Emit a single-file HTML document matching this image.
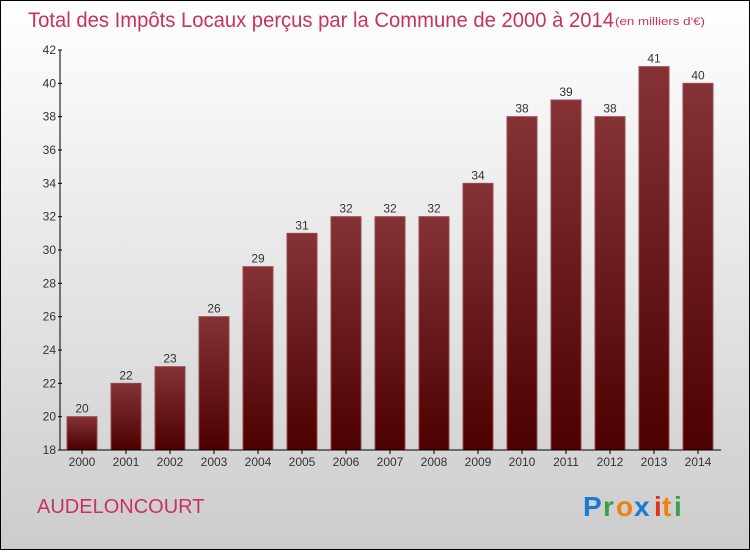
<!DOCTYPE html>
<html><head><meta charset="utf-8"><style>
html,body{margin:0;padding:0;}
body{width:750px;height:550px;overflow:hidden;font-family:"Liberation Sans",sans-serif;}
</style></head><body>
<svg width="750" height="550" viewBox="0 0 750 550" xmlns="http://www.w3.org/2000/svg">
<defs>
<linearGradient id="bg" x1="0" y1="0" x2="0" y2="1"><stop offset="0" stop-color="#ffffff"/><stop offset="1" stop-color="#cccccc"/></linearGradient>
<linearGradient id="bar" x1="0" y1="0" x2="0" y2="1"><stop offset="0" stop-color="#853236"/><stop offset="1" stop-color="#4d0000"/></linearGradient>
</defs>
<rect x="0.5" y="0.5" width="749" height="549" fill="url(#bg)" stroke="#000"/>
<text x="28" y="27" font-size="21" fill="#c8325f" textLength="586" lengthAdjust="spacingAndGlyphs">Total des Impôts Locaux perçus par la Commune de 2000 à 2014</text>
<text x="615" y="25" font-size="11" fill="#c8325f" textLength="90" lengthAdjust="spacingAndGlyphs">(en milliers d'€)</text>
<g id="plot"></g>
<text x="37" y="513" font-size="20" fill="#c8325f">AUDELONCOURT</text>
<g font-size="28" font-weight="bold">
<text x="583" y="516" fill="#1a7ad4">P</text><text x="603" y="516" fill="#3aa04a">r</text><text x="616" y="516" fill="#f08010">o</text><text x="634" y="516" fill="#1a7ad4">x</text><text x="654" y="516" fill="#e03020">i</text><text x="662" y="516" fill="#f08010">t</text><text x="674" y="516" fill="#3aa04a">i</text>
</g>
</svg>
<script>
const years=["2000","2001","2002","2003","2004","2005","2006","2007","2008","2009","2010","2011","2012","2013","2014"];
const values=[20,22,23,26,29,31,32,32,32,34,38,39,38,41,40];
const yTicks=[18,20,22,24,26,28,30,32,34,36,38,40,42];
const NS="http://www.w3.org/2000/svg";
const g=document.getElementById('plot');
const yMin=18,yMax=42,pTop=50,pBot=450,x0=60,x1=721;
const yS=v=>pBot-(v-yMin)/(yMax-yMin)*(pBot-pTop);
const step=44,first=82;
const xc=i=>first+i*step;
function mk(t,a,txt){const e=document.createElementNS(NS,t);for(const k in a)e.setAttribute(k,a[k]);if(txt!==undefined)e.textContent=txt;g.appendChild(e);return e;}
values.forEach((v,i)=>{
 const r=mk('rect',{x:xc(i)-15,y:yS(v),width:30,height:pBot-yS(v),fill:'url(#bar)',stroke:'#9a4a4e','stroke-width':1});
 
 
 const l=mk('text',{x:xc(i),y:yS(v)-4,'text-anchor':'middle','font-size':12,fill:'#333'},String(v));
 
 
 const t=mk('text',{x:xc(i),y:466,'text-anchor':'middle','font-size':12,fill:'#333'},years[i]);
 
 
 mk('line',{x1:xc(i),x2:xc(i),y1:pBot,y2:pBot+4,stroke:'#000'});
});
yTicks.forEach(v=>{
 const t=mk('text',{x:x0-4,y:yS(v)+4,'text-anchor':'end','font-size':12,fill:'#333'},String(v));
 
 
 mk('line',{x1:x0-2,x2:x0+2,y1:yS(v),y2:yS(v),stroke:'#000'});
});
const ya=mk('line',{x1:x0,x2:x0,y1:pTop,y2:pBot,stroke:'#000'});


const xa=mk('line',{x1:x0,x2:x1,y1:pBot,y2:pBot,stroke:'#000'});


</script>
</body></html>
